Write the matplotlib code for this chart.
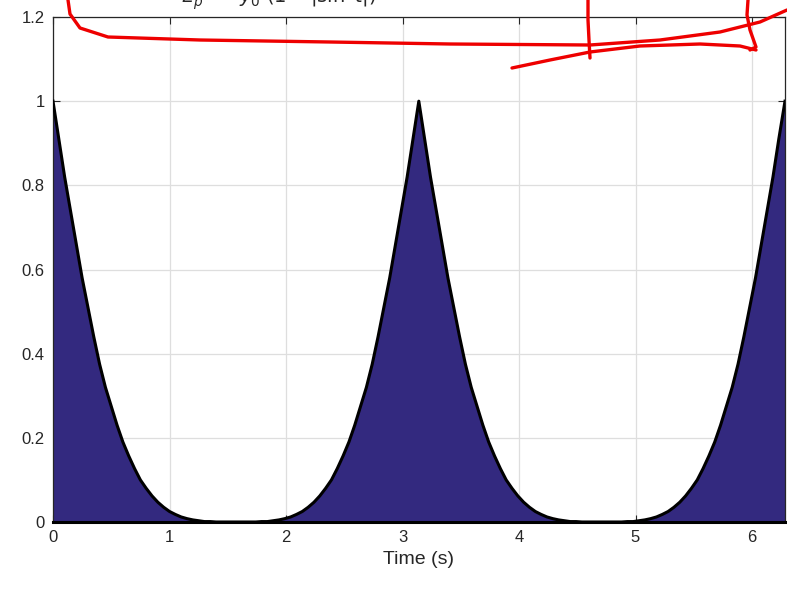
import matplotlib.pyplot as plt
from matplotlib.lines import Line2D

# время (с) и значения кривой, по полупериодам
t_a = [0.00, 0.05, 0.10, 0.15, 0.20, 0.25, 0.30, 0.35, 0.40, 0.45,
       0.50, 0.55, 0.60, 0.65, 0.70, 0.75, 0.80, 0.85, 0.90, 0.95,
       1.00, 1.05, 1.10, 1.15, 1.20, 1.25, 1.30, 1.35, 1.40, 1.50, 1.57]
y_a = [1.00, 0.91, 0.82, 0.74, 0.66, 0.58, 0.51, 0.44, 0.375, 0.32,
       0.275, 0.23, 0.19, 0.157, 0.127, 0.10, 0.08, 0.062, 0.047, 0.035,
       0.025, 0.018, 0.012, 0.008, 0.005, 0.003, 0.001, 0.001, 0.0, 0.0, 0.0]

t_b = [1.64, 1.74, 1.79, 1.84, 1.89, 1.94, 1.99, 2.04, 2.09, 2.14,
       2.19, 2.24, 2.29, 2.34, 2.39, 2.44, 2.49, 2.54, 2.59, 2.64,
       2.69, 2.74, 2.79, 2.84, 2.89, 2.94, 2.99, 3.04, 3.09, 3.14]
y_b = [0.0, 0.0, 0.001, 0.001, 0.003, 0.005, 0.008, 0.012, 0.018, 0.025,
       0.035, 0.047, 0.062, 0.08, 0.10, 0.127, 0.157, 0.19, 0.23, 0.275,
       0.32, 0.375, 0.44, 0.51, 0.58, 0.66, 0.74, 0.82, 0.91, 1.00]

t_c = [3.19, 3.24, 3.29, 3.34, 3.39, 3.44, 3.49, 3.54, 3.59, 3.64,
       3.69, 3.74, 3.79, 3.84, 3.89, 3.94, 3.99, 4.04, 4.09, 4.14,
       4.19, 4.24, 4.29, 4.34, 4.39, 4.44, 4.49, 4.54, 4.64, 4.71]
y_c = [0.91, 0.82, 0.74, 0.66, 0.58, 0.51, 0.44, 0.375, 0.32, 0.275,
       0.23, 0.19, 0.157, 0.127, 0.10, 0.08, 0.062, 0.047, 0.035, 0.025,
       0.018, 0.012, 0.008, 0.005, 0.003, 0.001, 0.001, 0.0, 0.0, 0.0]

t_d = [4.78, 4.88, 4.93, 4.98, 5.03, 5.08, 5.13, 5.18, 5.23, 5.28,
       5.33, 5.38, 5.43, 5.48, 5.53, 5.58, 5.63, 5.68, 5.73, 5.78,
       5.83, 5.88, 5.93, 5.98, 6.03, 6.08, 6.13, 6.18, 6.23, 6.2832]
y_d = [0.0, 0.0, 0.001, 0.001, 0.003, 0.005, 0.008, 0.012, 0.018, 0.025,
       0.035, 0.047, 0.062, 0.08, 0.10, 0.127, 0.157, 0.19, 0.23, 0.275,
       0.32, 0.375, 0.44, 0.51, 0.58, 0.66, 0.74, 0.82, 0.91, 1.00]

t = t_a + t_b + t_c + t_d
y = y_a + y_b + y_c + y_d

xticks = [0, 1, 2, 3, 4, 5, 6]
yticks = [0, 0.2, 0.4, 0.6, 0.8, 1.0, 1.2]
ytick_labels = ['0', '0.2', '0.4', '0.6', '0.8', '1', '1.2']

plt.rcParams['font.family'] = ['Liberation Sans', 'DejaVu Sans']

W, H = 787, 594
fig = plt.figure(figsize=(W / 100, H / 100), dpi=100)
ax = fig.add_axes([53 / W, 1 - 522 / H, (785 - 53) / W, (522 - 17) / H])

ax.fill_between(t, y, 0, color='#33297f', linewidth=0, zorder=2)
ax.plot(t, y, color='black', linewidth=2.2, zorder=3)
ax.plot([0, 6.2832], [0, 0], color='black', linewidth=2.2, zorder=3, clip_on=False)

ax.set_xlim(0, 6.2832)
ax.set_ylim(0, 1.2)
ax.set_xticks(xticks)
ax.set_yticks(yticks)
ax.set_yticklabels(ytick_labels)
ax.grid(True, color='#dedede', linewidth=0.9, zorder=0)
ax.set_axisbelow(True)
ax.tick_params(direction='in', length=5, width=0.8, top=True, right=True,
               labelsize=12, colors='#262626', pad=6)
for s in ax.spines.values():
    s.set_color('#262626')
    s.set_linewidth(0.9)
ax.set_xlabel('Time (s)', fontsize=14, color='#262626', labelpad=4)

# заголовок, почти весь обрезан верхним краем картинки
fig.text(0.36, 1 - 3 / H, r'$E_p\ =\ y_0\ (1 - |\sin\ t|)^2$', ha='center',
         va='baseline', fontsize=14, color='#262626')

# красные пометки от руки (в пикселях картинки)
strokes = [
    [(68, 0), (70, 14), (80, 28), (108, 37), (200, 40), (330, 42), (450, 44),
     (590, 45), (660, 40), (720, 32), (760, 22), (787, 10)],
    [(512, 68), (550, 60), (590, 52), (640, 46), (700, 44), (740, 46), (756, 50)],
    [(588, 0), (588, 20), (589, 40), (590, 58)],
    [(748, 0), (747, 15), (750, 30), (756, 47), (750, 50)],
]
for st in strokes:
    xs = [p[0] / W for p in st]
    ys = [1 - p[1] / H for p in st]
    fig.add_artist(Line2D(xs, ys, color='#ee0000', linewidth=2.4,
                          solid_capstyle='round', solid_joinstyle='round',
                          transform=fig.transFigure))

fig.savefig('out.png', dpi=100)
